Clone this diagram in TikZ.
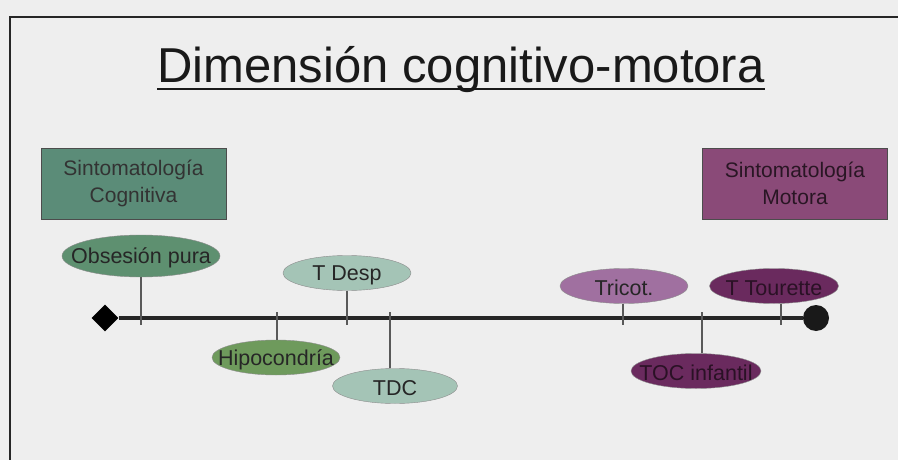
\documentclass[tikz,border=0pt]{standalone}
\usepackage{fontspec}
\setmainfont{Liberation Sans}
\usetikzlibrary{shapes.geometric}

\definecolor{fondo}{HTML}{EEEEEE}
\definecolor{cogn}{HTML}{5B8C78}
\definecolor{motor}{HTML}{8A4A78}
\definecolor{verde}{HTML}{5E9070}
\definecolor{oliva}{HTML}{6E9A5C}
\definecolor{menta}{HTML}{A4C4B6}
\definecolor{lila}{HTML}{A070A0}
\definecolor{morado}{HTML}{6A2A5E}

\tikzset{
  sintoma/.style={draw=black!70,minimum width=185,minimum height=71,
    align=center,font=\fontsize{21}{26.5}\selectfont},
  ev/.style={ellipse,draw=black!45,minimum width=128,minimum height=35,inner sep=0},
  etq/.style={font=\fontsize{21.5}{24}\selectfont,text=black!85,yshift=-2},
  marca/.style={draw=black!65,line width=1.2}
}

\begin{document}
\begin{tikzpicture}[x=1pt,y=-1pt]
    \fill[fondo] (0,0) rectangle (898,460);
    \useasboundingbox (0,0) rectangle (898,460);
    \draw[line width=2.5,black!85] (10,460) -- (10,17) -- (898,17);

    \node[inner sep=0,anchor=base,text=black!90,font=\fontsize{49}{55}\selectfont] (titulo) at (461,83) {Dimensión cognitivo-motora};
    \draw[line width=2.2,black!90] ([yshift=-6]titulo.base west) -- ([yshift=-6]titulo.base east);

    \node[sintoma,fill=cogn,text=black!80] (cog) at (133.5,183.5) {Sintomatología\\Cognitiva};
    \node[sintoma,fill=motor,text=black!70!motor] (mot) at (795,183.5) {Sintomatología\\Motora};

    \coordinate (lo) at (0,325);
    \coordinate (hi) at (0,312);

    \node[diamond,fill=black,minimum size=27,inner sep=0] (ini) at (105,318) {};
    \node[circle,fill=black!90,minimum size=26,inner sep=0] (fin) at (816,318) {};
    \draw[line width=4,black!85] (ini) -- (fin);

    \node[ev,fill=verde,minimum width=158,minimum height=42,label={[etq]center:Obsesión pura}] (obs) at (141,256) {};
    \node[ev,fill=menta,label={[etq]center:T Desp}] (desp) at (347,273) {};
    \node[ev,fill=oliva,label={[etq]center:Hipocondría}] (hipo) at (276,357.5) {};
    \node[ev,fill=menta,minimum width=125,label={[etq]center:TDC}] (tdc) at (395,386) {};
    \node[ev,fill=lila,label={[etq]center:Tricot.}] (tric) at (624,286) {};
    \node[ev,fill=morado,minimum width=129,label={[etq,text=black!60!morado]center:T Tourette}] (tour) at (774,286) {};
    \node[ev,fill=morado,minimum width=130,label={[etq,text=black!60!morado]center:TOC infantil}] (toc) at (696,371) {};

    \foreach \n/\dx in {obs/0,desp/0,tric/-1,tour/7}
    \draw[marca] ([xshift=\dx]\n.south) -- ([xshift=\dx]\n.south |- lo);
    \foreach \n/\dx in {hipo/1,tdc/-5,toc/6}
    \draw[marca] ([xshift=\dx]\n.north) -- ([xshift=\dx]\n.north |- hi);
  \end{tikzpicture}
\end{document}
